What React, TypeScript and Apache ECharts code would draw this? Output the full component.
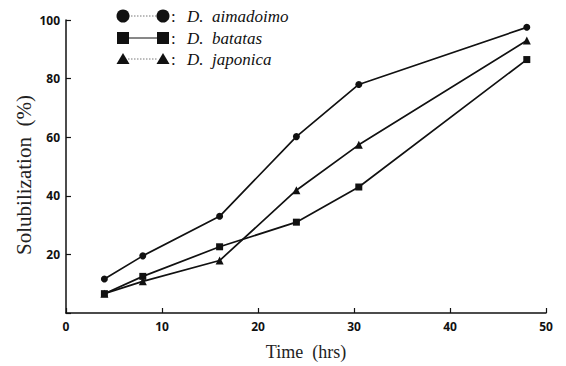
import React, { useEffect, useRef } from "react";
import * as echarts from "echarts";

const seriesNames = ["D.  aimadoimo", "D.  batatas", "D.  japonica"];
const seriesSymbols = ["circle", "rect", "triangle"];
const timeHrs = [4, 8, 16, 24, 30.5, 48];
const aimadoimo = [11.6, 19.5, 33, 60.2, 78, 97.5];
const batatas = [6.6, 12.5, 22.6, 31, 43, 86.5];
const japonica = [6.6, 10.8, 17.9, 41.9, 57.4, 93];
const seriesValues = [aimadoimo, batatas, japonica];
const xTicks = { min: 0, max: 50, interval: 10 };
const yTicks = { min: 0, max: 100, interval: 20 };

export default function App() {
  const ref = useRef<HTMLDivElement>(null);
  useEffect(() => {
    document.body.style.margin = "0";
    if (!ref.current) return;
    const chart = echarts.init(ref.current, undefined, { renderer: "svg" });
    const ink = "#111";
    const labelFont = { fontFamily: "Noto Sans", fontWeight: "bold" as const, fontSize: 12, color: ink };

    const legendRows = [16, 38, 59];
    const legendGraphics: any[] = [];
    legendRows.forEach((y, i) => {
      const lineStyle =
        i === 1
          ? { stroke: ink, lineWidth: 1 }
          : { stroke: "#555", lineWidth: 0.8, lineDash: [1.5, 1.5] };
      legendGraphics.push({ type: "line", shape: { x1: 128, y1: y, x2: 158, y2: y }, style: lineStyle });
      [123, 163].forEach((cx) => {
        if (i === 0) {
          legendGraphics.push({ type: "circle", shape: { cx, cy: y, r: 6.5 }, style: { fill: ink } });
        } else if (i === 1) {
          legendGraphics.push({ type: "rect", shape: { x: cx - 6, y: y - 6, width: 12, height: 12 }, style: { fill: ink } });
        } else {
          legendGraphics.push({
            type: "polygon",
            shape: { points: [[cx - 6.5, y + 5], [cx + 6.5, y + 5], [cx, y - 6]] },
            style: { fill: ink },
          });
        }
      });
      legendGraphics.push({
        type: "text",
        x: 171,
        y,
        style: { text: ":", font: "17px 'Liberation Serif'", fill: ink, verticalAlign: "middle" },
      });
      legendGraphics.push({
        type: "text",
        x: 187,
        y,
        style: {
          text: seriesNames[i],
          font: "italic 17px 'Liberation Serif'",
          fill: ink,
          verticalAlign: "middle",
        },
      });
    });

    chart.setOption({
      animation: false,
      backgroundColor: "#fff",
      grid: { left: 66, right: 20, top: 20, bottom: 51, containLabel: false },
      xAxis: {
        type: "value",
        min: xTicks.min,
        max: xTicks.max,
        interval: xTicks.interval,
        name: "Time  (hrs)",
        nameLocation: "middle",
        nameGap: 30,
        nameTextStyle: { fontFamily: "Liberation Serif", fontSize: 18, color: "#222" },
        axisLine: { lineStyle: { color: ink, width: 1.5 } },
        axisTick: { inside: true, length: 5, lineStyle: { color: ink, width: 1.2 } },
        axisLabel: { ...labelFont, margin: 7 },
        splitLine: { show: false },
      },
      yAxis: {
        type: "value",
        min: yTicks.min,
        max: yTicks.max,
        interval: yTicks.interval,
        axisLine: { show: true, lineStyle: { color: ink, width: 1.5 } },
        axisTick: { show: true, inside: true, length: 5, lineStyle: { color: ink, width: 1.2 } },
        axisLabel: { ...labelFont, margin: 6, formatter: (v: number) => (v === 0 ? "" : String(v)) },
        splitLine: { show: false },
      },
      graphic: [
        {
          type: "text",
          x: 24,
          y: 175,
          rotation: Math.PI / 2,
          style: {
            text: "Solubilization  (%)",
            font: "21px 'Liberation Serif'",
            fill: "#222",
            align: "center",
            verticalAlign: "middle",
          },
        },
        ...legendGraphics,
      ],
      series: seriesValues.map((vals, i) => ({
        type: "line",
        name: seriesNames[i],
        data: timeHrs.map((t, j) => [t, vals[j]]),
        symbol: seriesSymbols[i],
        symbolSize: i === 2 ? 8 : 7,
        showSymbol: true,
        lineStyle: { color: ink, width: 1.7 },
        itemStyle: { color: ink },
      })),
    });
    return () => chart.dispose();
  }, []);
  return <div ref={ref} style={{ width: 566, height: 366 }} />;
}
